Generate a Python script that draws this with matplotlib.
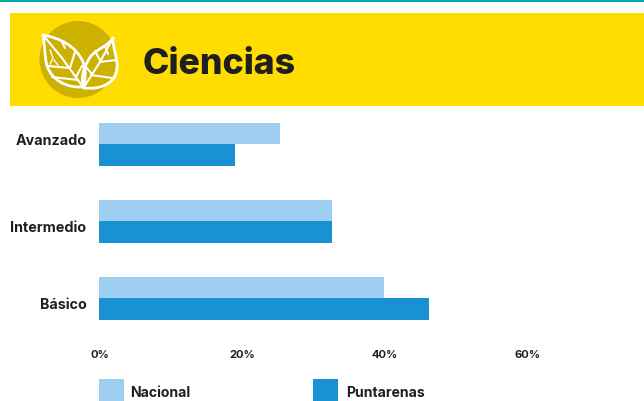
import matplotlib
matplotlib.use("Agg")
import matplotlib.pyplot as plt
from matplotlib.patches import Rectangle, Circle, PathPatch
from matplotlib.path import Path
from matplotlib.transforms import ScaledTranslation

plt.rcParams['font.family'] = ['Inter', 'DejaVu Sans']

categories = ['Básico', 'Intermedio', 'Avanzado']
nacional = [40.0, 32.7, 25.4]
puntarenas = [46.3, 32.7, 19.1]
ticks = [0, 20, 40, 60]
tick_labels = ['0%', '20%', '40%', '60%']
title = 'Ciencias'
series_names = ['Nacional', 'Puntarenas']

C_NAC = '#9FCFF0'
C_PUN = '#1A91D3'
TXT = '#1F1F1F'

W, H = 644, 402
fig = plt.figure(figsize=(W/100, H/100), dpi=100, facecolor='white')

ov = fig.add_axes([0, 0, 1, 1])
ov.set_xlim(0, W); ov.set_ylim(H-1, -1); ov.axis('off')
ov.add_patch(Rectangle((0, -1), W, 3, color='#00A9A5', lw=0))
ov.add_patch(Rectangle((10, 13), W-10, 93, color='#FFDD00', lw=0))
ov.add_patch(Circle((78, 59.5), 38.5, color='#CCB100', lw=0))

def curve(pts):
    return Path(pts, [Path.MOVETO] + [Path.CURVE4]*(len(pts)-1))

def stroke(p, lw=2.0):
    ov.add_patch(PathPatch(p, fc='none', ec='white', lw=lw, capstyle='round', joinstyle='round'))

def line(*pts, lw=1.5):
    ov.plot([p[0] for p in pts], [p[1] for p in pts], color='white', lw=lw, solid_capstyle='round')

# left leaf
stroke(curve([(43, 35), (60, 38), (76, 46), (83, 62), (87, 72), (85, 80), (83, 87),
              (66, 88), (52, 80), (47, 66), (44, 54), (45, 44), (43, 35)]))
line((43, 35), (62, 58), (83, 87))
line((62, 42), (65, 48)); line((75, 52), (70, 68)); line((82, 66), (76, 77))
line((48, 66), (70, 68)); line((52, 77), (78, 80))
line((50, 50), (53, 58), (50, 64), lw=1.0); line((54, 60), (58, 65), lw=1.0)
# right leaf
stroke(curve([(113, 38), (112, 46), (118, 58), (117, 68), (117, 82), (102, 90), (84, 88),
              (80, 78), (84, 66), (91, 56), (97, 49), (108, 46), (113, 38)]))
line((113, 38), (100, 62), (84, 87))
line((91, 75), (112, 78)); line((100, 62), (116, 60)); line((95, 51), (101, 62))
line((85, 66), (92, 74)); line((105, 46), (108, 54))

ov.text(143, 63.5, title, fontsize=25.7, fontweight='heavy', color=TXT, va='center', ha='left')

ov.add_patch(Rectangle((99, 379), 25, 23, color=C_NAC, lw=0))
ov.add_patch(Rectangle((313, 379), 25, 23, color=C_PUN, lw=0))
ov.text(130, 392.5, series_names[0], fontsize=10.1, fontweight='bold', color=TXT, va='center')
ov.text(346, 392.5, series_names[1], fontsize=10.1, fontweight='bold', color=TXT, va='center')

# left edge x=99; 7.125 px per percent; rows 77 px apart, Básico at y=298
ROW = 77
top_px, bottom_px = 101, 346
ax = fig.add_axes([99/W, 1-bottom_px/H, (W-99)/W, (bottom_px-top_px)/H])
ax.patch.set_alpha(0)
ax.set_xlim(0, (W-99)/7.125)
ax.set_ylim(-(bottom_px-299)/ROW, (299-top_px)/ROW)
y = list(range(len(categories)))
h = 21.5/ROW
ax.barh([v + h/2 for v in y], nacional, height=h, color=C_NAC)
ax.barh([v - h/2 for v in y], puntarenas, height=h, color=C_PUN)
for s in ax.spines.values():
    s.set_visible(False)
ax.set_yticks(y, categories, fontsize=10.3, fontweight='bold', color=TXT)
ax.set_xticks(ticks, tick_labels, fontsize=8, fontweight='bold', color=TXT)
ax.tick_params(length=0)
ax.tick_params(axis='y', pad=9)
ax.tick_params(axis='x', pad=3)
off = ScaledTranslation(1.0/100, 0, fig.dpi_scale_trans)
for lab in ax.get_xticklabels():
    lab.set_transform(lab.get_transform() + off)
# the reference's row labels sit off the bar centres
for lab, dy in zip(ax.get_yticklabels(), [-5, -5, 5.5]):
    lab.set_transform(lab.get_transform() + ScaledTranslation(0, dy/100, fig.dpi_scale_trans))

fig.savefig('out.png', dpi=100)
